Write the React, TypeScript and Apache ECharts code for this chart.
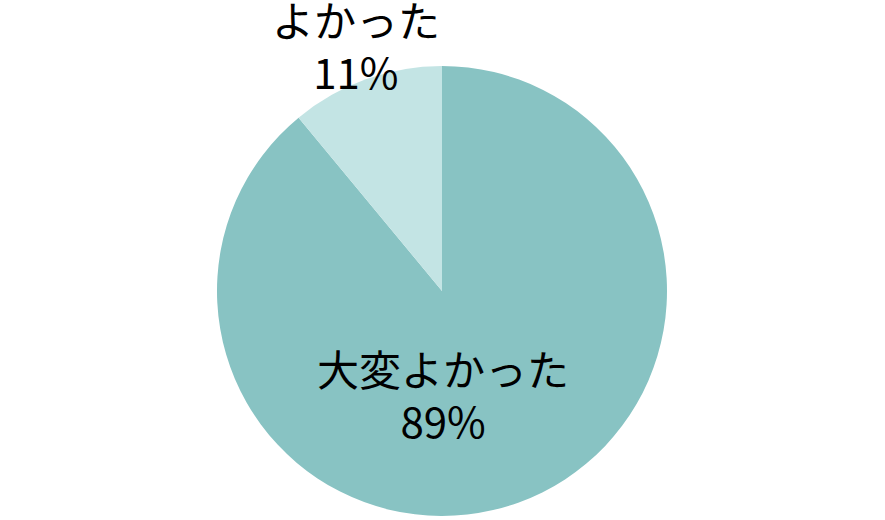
import React, { useEffect, useRef } from "react";
import * as echarts from "echarts";

const categories = ["大変よかった", "よかった"];
const values = [89, 11];
const colors = ["#88c3c3", "#c3e4e4"];
const labelOffsets: [number, number][] = [[-38, -6], [-47, -138]];

export default function App() {
  const ref = useRef<HTMLDivElement>(null);
  useEffect(() => {
    if (!ref.current) return;
    const chart = echarts.init(ref.current, null, { renderer: "svg" });
    chart.setOption({
      animation: false,
      series: [
        {
          type: "pie",
          center: [442, 291],
          radius: [0, 225],
          startAngle: 90,
          clockwise: true,
          silent: true,
          labelLine: { show: false },
          data: categories.map((name, i) => ({
            name,
            value: values[i],
            itemStyle: { color: colors[i] },
            label: {
              show: true,
              position: "inside",
              offset: labelOffsets[i],
              formatter: "{b}\n{c}%",
              color: "#000",
              fontSize: 42,
              lineHeight: 52,
              fontFamily: "Noto Sans CJK JP",
              fontWeight: "normal",
            },
          })),
        },
      ],
    });
    return () => chart.dispose();
  }, []);
  return <div ref={ref} style={{ width: 885, height: 520, position: "absolute", left: 0, top: 0 }} />;
}
